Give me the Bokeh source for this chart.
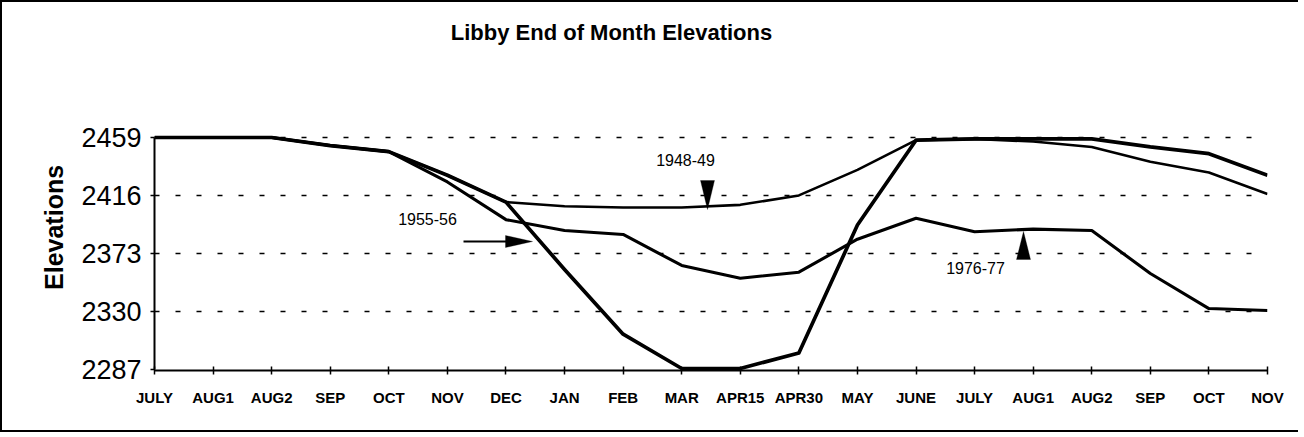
import math
from bokeh.plotting import figure
from bokeh.layouts import row
from bokeh.models import (Range1d, FixedTicker, Label, Arrow, PolyAnnotation)
from bokeh.embed import file_html
from bokeh.resources import INLINE

# ---------------- data ----------------
months = ["JULY", "AUG1", "AUG2", "SEP", "OCT", "NOV", "DEC", "JAN", "FEB", "MAR",
          "APR15", "APR30", "MAY", "JUNE", "JULY", "AUG1", "AUG2", "SEP", "OCT", "NOV"]
elev_1948_49 = [2459, 2459, 2459, 2453, 2448.5, 2431, 2411, 2408, 2407, 2407,
                2409, 2416, 2435, 2457, 2458, 2456, 2452, 2441, 2433, 2417]
elev_1955_56 = [2459, 2459, 2459, 2453, 2448.5, 2431, 2411, 2361, 2313, 2287.5,
                2287.5, 2299, 2394, 2457, 2458, 2458, 2458, 2452, 2447, 2431]
elev_1976_77 = [2459, 2459, 2459, 2453, 2448.5, 2426, 2398, 2390, 2387, 2364,
                2354.5, 2359, 2383.5, 2399, 2389, 2391, 2390, 2358, 2332, 2330.5]
y_ticks = [2287, 2330, 2373, 2416, 2459]
series_labels = ["1948-49", "1955-56", "1976-77"]
title_text = "Libby End of Month Elevations"
y_title = "Elevations"

# ---------------- layout ----------------
W, H = 1296, 428
PAGE = 2
LW = 70                    # width of the narrow panel holding the y title
FRAME_L, FRAME_R, FRAME_T, FRAME_B = 154, 1267, 14, 370
P_TOP_TICK = 137           # page y of the top tick
X0, X1 = 0, len(months) - 1
Y0 = 2286
_s = (FRAME_B - P_TOP_TICK) / (y_ticks[-1] - Y0)
Y1 = y_ticks[-1] + (P_TOP_TICK - FRAME_T) / _s

def dx(px):
    return X0 + (px - FRAME_L) / (FRAME_R - FRAME_L) * (X1 - X0)

def dy(py):
    return Y1 - (py - FRAME_T) / (FRAME_B - FRAME_T) * (Y1 - Y0)

xs = list(range(len(months)))

# ---------- narrow left panel with the vertical axis title ----------
lf = figure(width=LW, height=H, output_backend="svg", toolbar_location=None,
            title_location=None, x_axis_location=None, y_axis_location=None,
            x_range=Range1d(0, LW), y_range=Range1d(0, H),
            min_border_left=0, min_border_right=0, min_border_top=0, min_border_bottom=0)
lf.outline_line_color = None
lf.background_fill_color = "white"
lf.border_fill_color = "white"
lf.grid.visible = False
lf.add_layout(Label(x=53 - PAGE, y=H - (258 - PAGE), text=y_title, angle=math.pi / 2,
                    text_align="center", text_baseline="middle",
                    text_font="Liberation Sans", text_font_style="bold",
                    text_font_size="25px", text_color="black"))

# ---------- main chart ----------
p = figure(width=W - LW, height=H, output_backend="svg", toolbar_location=None,
           title_location=None,
           x_range=Range1d(X0, X1), y_range=Range1d(Y0, Y1),
           min_border_left=FRAME_L - PAGE - LW, min_border_right=W - (FRAME_R - PAGE),
           min_border_top=FRAME_T - PAGE, min_border_bottom=H - (FRAME_B - PAGE))
p.outline_line_color = None
p.background_fill_color = "white"
p.border_fill_color = "white"

# axes
p.xaxis.ticker = FixedTicker(ticks=xs)
p.xaxis.major_label_overrides = {i: m for i, m in enumerate(months)}
p.xaxis.axis_line_width = 2
p.xaxis.axis_line_color = "black"
p.xaxis.major_tick_in = 4
p.xaxis.major_tick_out = 4
p.xaxis.major_tick_line_width = 1.5
p.xaxis.minor_tick_line_color = None
p.xaxis.major_label_text_font = "Liberation Sans"
p.xaxis.major_label_text_font_style = "bold"
p.xaxis.major_label_text_font_size = "15px"
p.xaxis.major_label_text_color = "black"
p.xaxis.major_label_standoff = 14

p.yaxis.ticker = FixedTicker(ticks=y_ticks)
p.yaxis.bounds = (y_ticks[0], y_ticks[-1])
p.yaxis.axis_line_width = 2
p.yaxis.axis_line_color = "black"
p.yaxis.major_tick_in = 0
p.yaxis.major_tick_out = 4
p.yaxis.major_tick_line_width = 1.5
p.yaxis.minor_tick_line_color = None
p.yaxis.major_label_text_font = "Liberation Sans"
p.yaxis.major_label_text_font_size = "27px"
p.yaxis.major_label_text_color = "black"
p.yaxis.major_label_standoff = 9

p.xgrid.grid_line_color = None
p.ygrid.ticker = FixedTicker(ticks=y_ticks[1:])
p.ygrid.grid_line_color = "black"
p.ygrid.grid_line_width = 1.6
p.ygrid.grid_line_dash = "5 16"

# lines
p.line(xs, elev_1948_49, line_color="black", line_width=2.6, line_join="round")
p.line(xs, elev_1976_77, line_color="black", line_width=3.1, line_join="round")
p.line(xs, elev_1955_56, line_color="black", line_width=3.7, line_join="round")

# title (inside the extended frame)
p.add_layout(Label(x=dx(611), y=dy(32), text=title_text, text_align="center",
                   text_baseline="middle", text_font="Liberation Sans",
                   text_font_style="bold", text_font_size="22px", text_color="black"))

# series annotations
lab_font = dict(text_font="Liberation Sans", text_font_size="16px", text_color="black",
                text_align="center", text_baseline="middle")
p.add_layout(Label(x=dx(685), y=dy(159), text=series_labels[0], **lab_font))
p.add_layout(Label(x=dx(427), y=dy(218), text=series_labels[1], **lab_font))
p.add_layout(Label(x=dx(975), y=dy(267), text=series_labels[2], **lab_font))

hw = 7
# 1948-49 down triangle
tx, ty_tip, ty_top = 707, 209, 180
p.add_layout(PolyAnnotation(xs=[dx(tx - hw), dx(tx + hw), dx(tx)],
                            ys=[dy(ty_top), dy(ty_top), dy(ty_tip)],
                            fill_color="black", fill_alpha=1, line_color="black", line_width=1))
# 1976-77 up triangle
ux, uy_tip, uy_base = 1023, 231, 259
p.add_layout(PolyAnnotation(xs=[dx(ux - hw), dx(ux + hw), dx(ux)],
                            ys=[dy(uy_base), dy(uy_base), dy(uy_tip)],
                            fill_color="black", fill_alpha=1, line_color="black", line_width=1))
# 1955-56 right arrow
ay = 241
p.add_layout(Arrow(x_start=dx(463), y_start=dy(ay), x_end=dx(506), y_end=dy(ay),
                   end=None, line_color="black", line_width=2))
p.add_layout(PolyAnnotation(xs=[dx(505), dx(505), dx(532)],
                            ys=[dy(ay - 6), dy(ay + 6), dy(ay)],
                            fill_color="black", fill_alpha=1, line_color="black", line_width=1))

layout = row(lf, p)
layout.styles = {"border-top": "2px solid black", "border-left": "2px solid black",
                 "border-bottom": "2px solid black"}

open("out.html", "w").write(file_html(layout, INLINE))
